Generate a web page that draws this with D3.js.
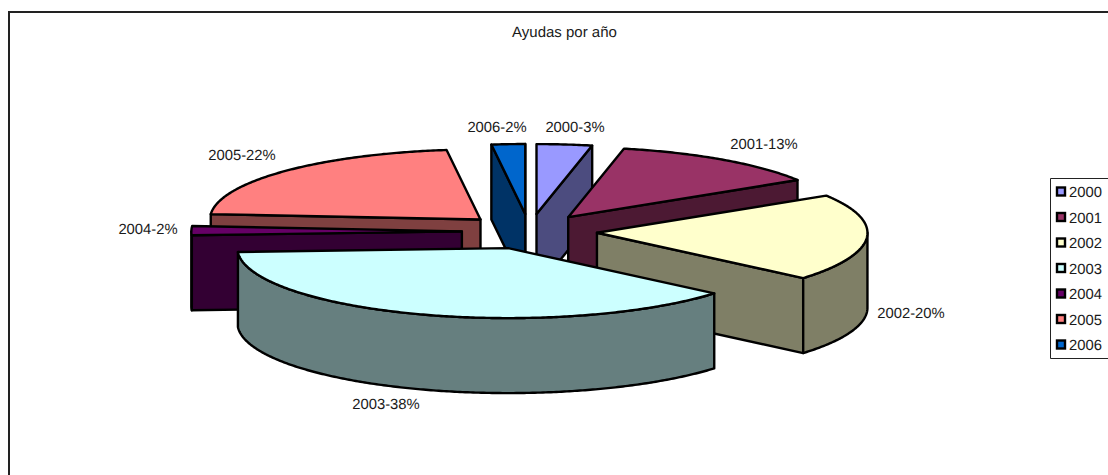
<!DOCTYPE html>
<html>
<head>
<meta charset="utf-8">
<script src="https://cdn.jsdelivr.net/npm/d3@7"></script>
<style>
html,body{margin:0;padding:0;background:#fff;overflow:hidden}
svg{display:block}
text{font-family:"Liberation Sans",Arial,sans-serif;fill:#1a1a1a;text-rendering:geometricPrecision}
</style>
</head>
<body>
<svg id="chart" width="1108" height="475"></svg>
<script>
const titleText = "Ayudas por año";
const years = ["2000","2001","2002","2003","2004","2005","2006"];
const shares = [3.3,12.8,20.1,37.9,2.1,21.8,2];
const percentLabels = ["3%","13%","20%","38%","2%","22%","2%"];
const colors = ["#9999FF","#993366","#FFFFCC","#CCFFFF","#660066","#FF8080","#0066CC"];
const sideColors = ["#4C4C7F","#4C1933","#7F7F66","#667F7F","#330033","#7F4040","#003366"];

const svg = d3.select("#chart");
const cx = 529.5, cy = 231.5, rx = 270.5, ry = 70, depth = 75, explode = 0.25;
const sx = d3.scaleLinear().domain([-1,1]).range([cx-rx,cx+rx]);
const sy = d3.scaleLinear().domain([-1,1]).range([cy-ry,cy+ry]);
const line = d3.line();
const EDGE = 2.4;

// chart frame (right and bottom run off the picture)
svg.append("path").attr("d","M9,476V12H1109").attr("fill","none").attr("stroke","#222").attr("stroke-width",2);

svg.append("text").attr("x",564.5).attr("y",37).attr("text-anchor","middle")
  .attr("font-size",15).text(titleText);

const pie = d3.pie().sort(null).startAngle(0).endAngle(2*Math.PI);
const slices = pie(shares).map((d,i)=>{
  const mid = (d.startAngle+d.endAngle)/2;
  return {i, a0:d.startAngle, a1:d.endAngle, ox:explode*Math.sin(mid), oy:-explode*Math.cos(mid)};
});
const P = (s,a,z=0)=>[sx(s.ox+Math.sin(a)), sy(s.oy-Math.cos(a))+z];
const C = (s,z=0)=>[sx(s.ox), sy(s.oy)+z];
const arcPts = (s,a0,a1,z=0)=>{
  const n = Math.max(2,Math.ceil((a1-a0)/0.01));
  return d3.range(n+1).map(k=>P(s,a0+(a1-a0)*k/n,z));
};

const order = [5,6,0,1,2,4,3];
const g = svg.append("g").attr("stroke","#000").attr("stroke-width",EDGE).attr("stroke-linejoin","round");
order.forEach(i=>{
  const s = slices[i];
  const side = sideColors[i];
  const piece = g.append("g");
  const poly = pts=>piece.append("path").attr("d",line(pts)+"Z").attr("fill",side);
  // cut faces seen by the viewer
  if (Math.sin(s.a1)>0) poly([C(s),P(s,s.a1),P(s,s.a1,depth),C(s,depth)]);
  if (Math.sin(s.a0)<0) poly([C(s),P(s,s.a0),P(s,s.a0,depth),C(s,depth)]);
  // outer curved wall
  const lo = Math.max(s.a0,Math.PI/2), hi = Math.min(s.a1,3*Math.PI/2);
  if (hi>lo) poly([...arcPts(s,lo,hi),...arcPts(s,lo,hi,depth).reverse()]);
  // top face
  piece.append("path").attr("d",line([C(s),...arcPts(s,s.a0,s.a1)])+"Z").attr("fill",colors[i]);
});

// data labels
const labelAt = [[575,127],[764,144],[911,313],[386,404],[148,229],[242,155],[497,127]];
const labels = svg.append("g").attr("font-size",14.8).attr("text-anchor","middle");
years.forEach((y,i)=>{
  labels.append("text").attr("x",labelAt[i][0]).attr("y",labelAt[i][1]+5).text(y+"-"+percentLabels[i]);
});

// legend (right side runs off the picture)
const legend = svg.append("g");
legend.append("path").attr("d","M1109,178.5H1050.5V358.5H1109").attr("fill","#fff").attr("stroke","#222").attr("stroke-width",1);
const ly = d3.scalePoint().domain(years).range([192,345]);
years.forEach((y,i)=>{
  legend.append("rect").attr("x",1057).attr("y",ly(y)-4.5).attr("width",8).attr("height",8)
    .attr("fill",colors[i]).attr("stroke","#000").attr("stroke-width",2.4);
  legend.append("text").attr("x",1069).attr("y",ly(y)+5).attr("font-size",14.8).text(y);
});
</script>
</body>
</html>
